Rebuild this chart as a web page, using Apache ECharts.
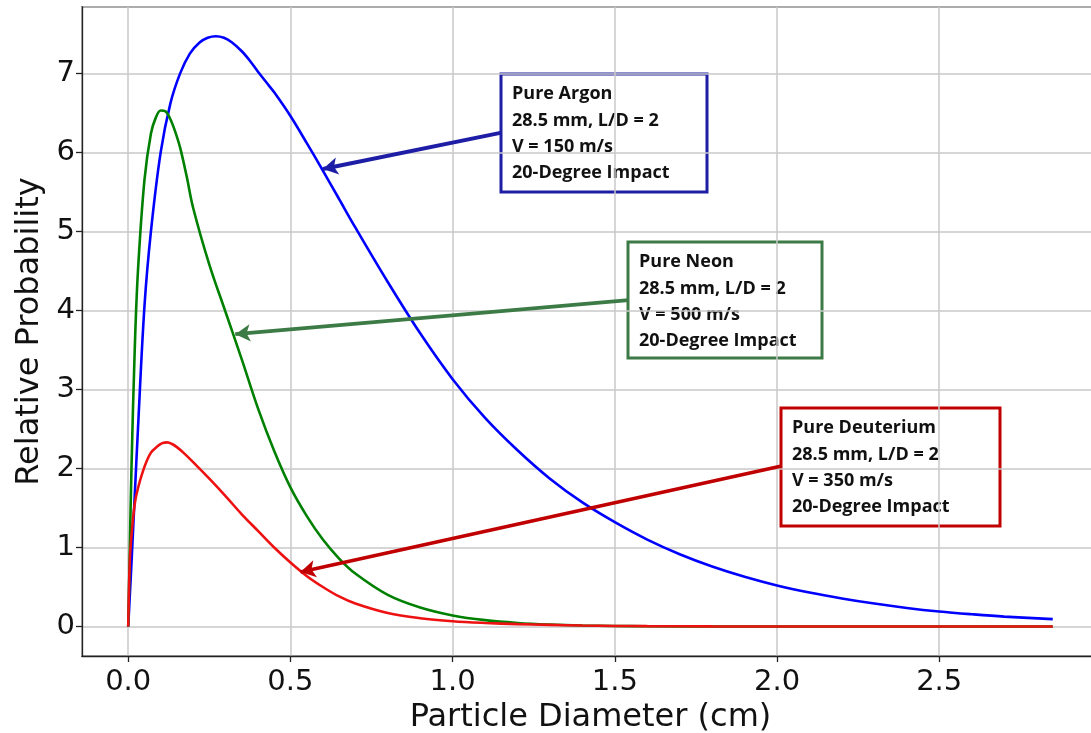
<!DOCTYPE html>
<html>
<head>
<meta charset="utf-8" />
<title>Relative Probability vs Particle Diameter</title>
<style>
	html, body { margin: 0; padding: 0; background: #fff; }
	#main { width: 1091px; height: 733px; }
</style>
</head>
<body>
<div id="main"></div>
<script src="https://cdn.jsdelivr.net/npm/echarts@6/dist/echarts.min.js"></script>
<script>
	// particle diameter (cm) and relative probability
	var argonD = [0, 0.005, 0.01, 0.02, 0.03, 0.05, 0.07, 0.1, 0.13, 0.16,
		0.19, 0.22, 0.245, 0.27, 0.295, 0.32, 0.35, 0.375, 0.4, 0.425,
		0.45, 0.5, 0.55, 0.6, 0.65, 0.7, 0.8, 0.9, 1.0, 1.1,
		1.2, 1.3, 1.4, 1.5, 1.6, 1.7, 1.8, 1.9, 2.0, 2.1,
		2.2, 2.3, 2.4, 2.5, 2.6, 2.7, 2.85];
	var argonP = [0, 0.4, 0.8, 1.65, 2.5, 4.05, 5.0, 6.0, 6.62, 7.0,
		7.25, 7.39, 7.45, 7.47, 7.45, 7.39, 7.28, 7.16, 7.02, 6.89,
		6.76, 6.46, 6.12, 5.77, 5.41, 5.05, 4.36, 3.71, 3.13, 2.64,
		2.23, 1.87, 1.57, 1.32, 1.10, 0.915, 0.76, 0.63, 0.52, 0.43,
		0.355, 0.29, 0.235, 0.19, 0.155, 0.125, 0.093];

	var neonD = [0, 0.005, 0.01, 0.02, 0.03, 0.05, 0.07, 0.085, 0.1, 0.115,
		0.13, 0.145, 0.16, 0.18, 0.2, 0.25, 0.3, 0.35, 0.4, 0.45,
		0.5, 0.55, 0.6, 0.65, 0.7, 0.8, 0.9, 1.0, 1.1, 1.2,
		1.3, 1.4, 1.5, 1.6, 1.8, 2.2, 2.85];
	var neonP = [0, 1.0, 2.0, 3.5, 4.5, 5.65, 6.24, 6.44, 6.53, 6.52,
		6.42, 6.26, 6.06, 5.7, 5.3, 4.58, 3.98, 3.38, 2.76, 2.22,
		1.76, 1.40, 1.10, 0.86, 0.67, 0.4, 0.24, 0.14, 0.08, 0.045,
		0.025, 0.013, 0.007, 0.003, 0.001, 0, 0];

	var deutD = [0, 0.005, 0.01, 0.02, 0.03, 0.05, 0.07, 0.09, 0.105, 0.12,
		0.135, 0.15, 0.17, 0.2, 0.25, 0.3, 0.35, 0.4, 0.45, 0.5,
		0.55, 0.6, 0.65, 0.7, 0.8, 0.9, 1.0, 1.1, 1.2, 1.3,
		1.4, 1.5, 1.6, 1.8, 2.2, 2.85];
	var deutP = [0, 0.85, 1.15, 1.55, 1.75, 2.02, 2.2, 2.28, 2.32, 2.33,
		2.31, 2.27, 2.2, 2.08, 1.87, 1.65, 1.42, 1.21, 1.0, 0.81,
		0.64, 0.5, 0.38, 0.29, 0.17, 0.105, 0.067, 0.045, 0.03, 0.02,
		0.012, 0.007, 0.004, 0.001, 0, 0];

	// annotation text and arrows (arrow: [tail x, tail y, tip x, tip y] in data units)
	var argonNote = ['Pure Argon', '28.5 mm, L/D = 2', 'V = 150 m/s', '20-Degree Impact'];
	var neonNote = ['Pure Neon', '28.5 mm, L/D = 2', 'V = 500 m/s', '20-Degree Impact'];
	var deutNote = ['Pure Deuterium', '28.5 mm, L/D = 2', 'V = 350 m/s', '20-Degree Impact'];
	var argonArrow = [1.151, 6.25, 0.6, 5.79];
	var neonArrow = [1.542, 4.13, 0.33, 3.70];
	var deutArrow = [2.014, 2.03, 0.531, 0.69];

	function pairs(xs, ys) {
		var out = [];
		for (var i = 0; i < xs.length; i++) out.push([xs[i], ys[i]]);
		return out;
	}

	function arrow(a, color, width) {
		return {
			silent: true,
			symbol: ['none', 'arrow'],
			symbolSize: [13, 15],
			label: { show: false },
			lineStyle: { color: color, width: width, type: 'solid' },
			emphasis: { disabled: true },
			data: [[{ coord: [a[0], a[1]] }, { coord: [a[2], a[3]] }]]
		};
	}

	function noteBox(x, y, w, h, color, lines) {
		return {
			type: 'group',
			z: 100,
			children: [{
				type: 'rect',
				shape: { x: x, y: y, width: w, height: h },
				style: { fill: 'transparent', stroke: color, lineWidth: 3 }
			}, {
				type: 'text',
				x: x + 11,
				y: y + 7,
				style: {
					text: lines.join('\n'),
					fill: '#111',
					font: 'bold 18px "Open Sans"',
					lineHeight: 26.3
				}
			}]
		};
	}

	function curve(name, xs, ys, color, note) {
		return {
			name: name,
			type: 'line',
			data: pairs(xs, ys),
			showSymbol: false,
			smooth: 0.35,
			lineStyle: { color: color, width: 2.6 },
			itemStyle: { color: color },
			markLine: note
		};
	}

	var chart = echarts.init(document.getElementById('main'));
	var axisFont = 'DejaVu Sans';
	var option = {
		animation: false,
		grid: {
			left: 82, top: 7, bottom: 77, right: -8,
			containLabel: false,
			outerBoundsMode: 'none',
			show: true, borderColor: '#222', borderWidth: 1.3
		},
		xAxis: {
			type: 'value',
			min: -0.1425,
			max: 2.9925,
			minInterval: 0.5,
			maxInterval: 0.5,
			name: 'Particle Diameter (cm)',
			nameLocation: 'middle',
			nameGap: 46,
			nameTextStyle: { fontFamily: axisFont, fontSize: 32, color: '#111' },
			axisLine: { onZero: false, lineStyle: { color: '#222', width: 1.3 } },
			axisTick: { show: true, length: 6, lineStyle: { color: '#222', width: 1.3 } },
			axisLabel: {
				fontFamily: axisFont, fontSize: 29, color: '#111', margin: 12,
				showMinLabel: false, showMaxLabel: false,
				formatter: function (v) { return v.toFixed(1); }
			},
			splitLine: { show: true, lineStyle: { color: '#c8c8c8', width: 1.5 } }
		},
		yAxis: {
			type: 'value',
			min: -0.3735,
			max: 7.84,
			minInterval: 1,
			maxInterval: 1,
			name: 'Relative Probability',
			nameLocation: 'middle',
			nameGap: 35,
			nameTextStyle: { fontFamily: axisFont, fontSize: 32, color: '#111' },
			axisLine: { show: true, onZero: false, lineStyle: { color: '#222', width: 1.3 } },
			axisTick: { show: true, length: 6, lineStyle: { color: '#222', width: 1.3 } },
			axisLabel: {
				fontFamily: axisFont, fontSize: 29, color: '#111', margin: 7,
				showMinLabel: false, showMaxLabel: false,
				formatter: function (v) { return String(Math.round(v)); }
			},
			splitLine: { show: true, lineStyle: { color: '#c8c8c8', width: 1.5 } }
		},
		series: [
			curve('Pure Argon', argonD, argonP, '#0000ff', arrow(argonArrow, '#1d1da6', 4)),
			curve('Pure Neon', neonD, neonP, '#008000', arrow(neonArrow, '#3d7b46', 3.6)),
			curve('Pure Deuterium', deutD, deutP, '#ee1111', arrow(deutArrow, '#c00000', 3.6))
		],
		graphic: [
			noteBox(501, 74, 206, 118, '#1d1da6', argonNote),
			noteBox(628, 242, 194, 116, '#3d7b46', neonNote),
			noteBox(781, 408, 219, 118, '#c00000', deutNote)
		]
	};
	chart.setOption(option);
</script>
</body>
</html>
